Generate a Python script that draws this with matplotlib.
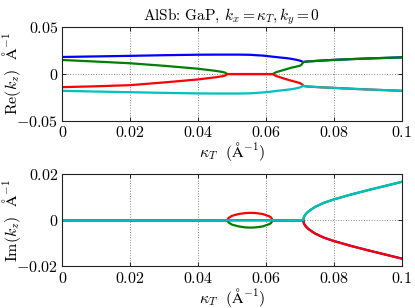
import matplotlib
matplotlib.use("Agg")
import matplotlib.pyplot as plt

plt.rcParams["font.family"] = "serif"
plt.rcParams["font.serif"] = ["cmr10"]
plt.rcParams["mathtext.fontset"] = "cm"
plt.rcParams["axes.formatter.use_mathtext"] = True

# kappa_T sample points (1/Angstrom)
kt = [0, 0.01, 0.02, 0.03, 0.04, 0.045, 0.047, 0.048, 0.0486,
      0.049, 0.050, 0.052, 0.054, 0.0555, 0.057, 0.059, 0.061, 0.0615,
      0.062, 0.063, 0.0645, 0.066, 0.0675, 0.069, 0.070, 0.0705, 0.071,
      0.0712, 0.0718, 0.0726, 0.0744, 0.077, 0.080, 0.085, 0.090, 0.095, 0.100]

# Re(k_z) of the four roots
re_blue = [0.0182, 0.0188, 0.0194, 0.0201, 0.0206, 0.0207, 0.0207, 0.0207, 0.0207,
           0.0207, 0.0207, 0.0207, 0.0206, 0.0205, 0.0201, 0.0197, 0.0189, 0.0187,
           0.0185, 0.0181, 0.0175, 0.0170, 0.0162, 0.0152, 0.0143, 0.0137, 0.0127,
           0.0129, 0.0133, 0.0135, 0.0139, 0.0145, 0.0151, 0.0159, 0.0166, 0.0172, 0.0178]
re_green = [0.0150, 0.0133, 0.0115, 0.0088, 0.0057, 0.0035, 0.0024, 0.0015, 0.0,
            0.0, 0.0, 0.0, 0.0, 0.0, 0.0, 0.0, 0.0, 0.0,
            0.0, 0.0020, 0.0036, 0.0052, 0.0068, 0.0080, 0.0089, 0.0100, 0.0127,
            0.0129, 0.0133, 0.0135, 0.0139, 0.0145, 0.0151, 0.0159, 0.0166, 0.0172, 0.0178]
re_red = [-0.0139, -0.0130, -0.0118, -0.0089, -0.0057, -0.0035, -0.0024, -0.0015, 0.0,
          0.0, 0.0, 0.0, 0.0, 0.0, 0.0, 0.0, 0.0, 0.0,
          0.0, -0.0020, -0.0038, -0.0055, -0.0071, -0.0085, -0.0096, -0.0105, -0.0124,
          -0.0127, -0.0131, -0.0133, -0.0137, -0.0142, -0.0147, -0.0156, -0.0164, -0.0171, -0.0178]
re_cyan = [-0.0178, -0.0186, -0.0193, -0.0200, -0.0206, -0.0207, -0.0207, -0.0207, -0.0207,
           -0.0207, -0.0207, -0.0207, -0.0206, -0.0205, -0.0201, -0.0196, -0.0189, -0.0187,
           -0.0185, -0.0180, -0.0174, -0.0168, -0.0161, -0.0151, -0.0142, -0.0135, -0.0124,
           -0.0127, -0.0131, -0.0133, -0.0137, -0.0142, -0.0147, -0.0156, -0.0164, -0.0171, -0.0178]

# Im(k_z) of the four roots
im_blue = [0.0, 0.0, 0.0, 0.0, 0.0, 0.0, 0.0, 0.0, 0.0,
           0.0, 0.0, 0.0, 0.0, 0.0, 0.0, 0.0, 0.0, 0.0,
           0.0, 0.0, 0.0, 0.0, 0.0, 0.0, 0.0, 0.0, 0.0,
           -0.0015, -0.0028, -0.0039, -0.0057, -0.0075, -0.0090, -0.0111, -0.0130, -0.0148, -0.0166]
im_green = [0.0, 0.0, 0.0, 0.0, 0.0, 0.0, 0.0, 0.0, 0.0,
            -0.0010, -0.0019, -0.0027, -0.0031, -0.0032, -0.0031, -0.0027, -0.0017, -0.0012,
            0.0, 0.0, 0.0, 0.0, 0.0, 0.0, 0.0, 0.0, 0.0,
            0.0015, 0.0028, 0.0039, 0.0057, 0.0075, 0.0090, 0.0111, 0.0130, 0.0148, 0.0166]
im_red = [0.0, 0.0, 0.0, 0.0, 0.0, 0.0, 0.0, 0.0, 0.0,
          0.0010, 0.0019, 0.0027, 0.0031, 0.0032, 0.0031, 0.0027, 0.0017, 0.0012,
          0.0, 0.0, 0.0, 0.0, 0.0, 0.0, 0.0, 0.0, 0.0,
          -0.0015, -0.0028, -0.0039, -0.0057, -0.0075, -0.0090, -0.0111, -0.0130, -0.0148, -0.0166]
im_cyan = [0.0, 0.0, 0.0, 0.0, 0.0, 0.0, 0.0, 0.0, 0.0,
           0.0, 0.0, 0.0, 0.0, 0.0, 0.0, 0.0, 0.0, 0.0,
           0.0, 0.0, 0.0, 0.0, 0.0, 0.0, 0.0, 0.0, 0.0,
           0.0015, 0.0028, 0.0039, 0.0057, 0.0075, 0.0090, 0.0111, 0.0130, 0.0148, 0.0166]

colors = ["#0000ff", "#008000", "#ff0000", "#00bfbf"]
xticks = [0, 0.02, 0.04, 0.06, 0.08, 0.1]
xticklabels = ["$0$", "$0.02$", "$0.04$", "$0.06$", "$0.08$", "$0.1$"]


def style_axis(ax, yticks, yticklabels):
    ax.set_xlim(0, 0.1)
    ax.set_ylim(yticks[0], yticks[-1])
    ax.set_xticks(xticks)
    ax.set_xticklabels(xticklabels)
    ax.set_yticks(yticks)
    ax.set_yticklabels(yticklabels)
    ax.tick_params(direction="in", length=3, width=0.6, labelsize=11.5,
                   top=True, right=True, pad=3)
    ax.grid(True, linestyle=":", color="#888888", linewidth=0.7)
    for s in ax.spines.values():
        s.set_linewidth(0.8)
        s.set_color("#222222")
    ax.set_xlabel(r"$\kappa_T\ \ (\mathrm{Å}^{-1})$", fontsize=11.5, labelpad=0)


fig = plt.figure(figsize=(4.15, 3.08), dpi=100)
ax1 = fig.add_axes([0.150, 0.607, 0.818, 0.305])
ax2 = fig.add_axes([0.150, 0.135, 0.818, 0.300])

for re, c in zip([re_blue, re_green, re_red, re_cyan], colors):
    ax1.plot(kt, re, color=c, linewidth=1.6)
for im, c in zip([im_blue, im_green, im_red, im_cyan], colors):
    ax2.plot(kt, im, color=c, linewidth=1.6)

style_axis(ax1, [-0.05, 0, 0.05], ["$-0.05$", "$0$", "$0.05$"])
style_axis(ax2, [-0.02, 0, 0.02], ["$-0.02$", "$0$", "$0.02$"])
ax1.set_ylabel(r"$\mathrm{Re}(k_z)\ \ \mathrm{Å}^{-1}$", fontsize=11.5, labelpad=0)
ax2.set_ylabel(r"$\mathrm{Im}(k_z)\ \ \mathrm{Å}^{-1}$", fontsize=11.5, labelpad=0)
ax1.yaxis.set_label_coords(-0.115, 0.5)
ax2.yaxis.set_label_coords(-0.115, 0.5)
ax1.set_title(r"AlSb: GaP, $k_x = \kappa_T, k_y = 0$", fontsize=11, pad=5)

fig.savefig("out.png", dpi=100)
